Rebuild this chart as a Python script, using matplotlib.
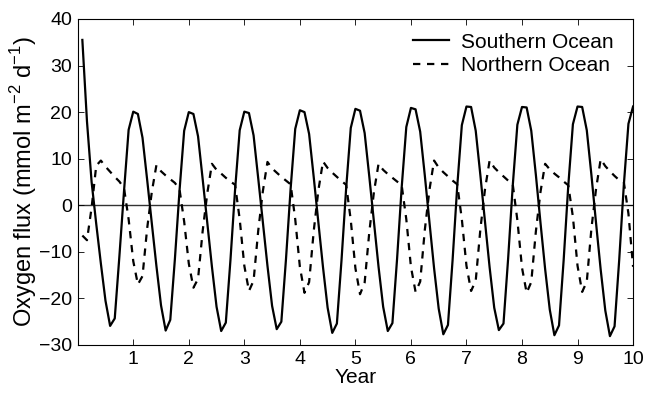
import numpy as np
import matplotlib
matplotlib.use('Agg')
import matplotlib.pyplot as plt

plt.rcParams['font.family'] = ['Liberation Sans', 'DejaVu Sans']
plt.rcParams['mathtext.fontset'] = 'custom'
plt.rcParams['mathtext.rm'] = 'Liberation Sans'

# monthly values, one row per model year (month 1..12)
southern = [
    35.5, 18.0, 5.0, -4.0, -12.5, -20.5, -25.9, -24.3, -11.0, 3.0, 16.2, 20.1,
    19.6, 14.5, 5.5, -3.8, -13.0, -21.5, -26.9, -24.6, -11.5, 3.2, 16.0, 20.0,
    19.6, 14.8, 5.6, -3.8, -13.2, -21.8, -27.0, -25.2, -11.8, 3.3, 16.1, 20.1,
    19.8, 15.0, 5.8, -3.6, -13.0, -21.6, -26.6, -25.0, -11.6, 3.5, 16.4, 20.4,
    20.0, 15.3, 6.0, -3.7, -13.3, -22.0, -27.4, -25.4, -11.8, 3.6, 16.6, 20.7,
    20.3, 15.5, 6.2, -3.5, -13.2, -21.8, -27.0, -25.3, -11.6, 3.8, 16.8, 20.9,
    20.6, 15.8, 6.4, -3.6, -13.5, -22.2, -27.7, -25.7, -11.8, 4.0, 17.2, 21.2,
    21.1, 16.0, 6.5, -3.5, -13.3, -22.0, -26.8, -25.4, -11.5, 4.2, 17.3, 21.1,
    21.0, 16.0, 6.5, -3.8, -13.7, -22.4, -27.9, -25.8, -11.8, 4.2, 17.4, 21.2,
    21.1, 16.1, 6.5, -3.8, -13.8, -22.6, -28.1, -26.0, -11.8, 4.3, 17.5, 21.2,
]
northern = [
    -6.5, -7.5, -0.5, 8.5, 9.6, 8.3, 7.2, 6.1, 5.1, 3.7, -3.0, -12.0,
    -17.0, -15.2, -5.0, 2.8, 8.6, 7.3, 6.4, 5.6, 4.8, 3.4, -3.5, -12.5,
    -17.7, -15.8, -5.5, 2.6, 8.9, 7.6, 6.8, 5.9, 5.1, 4.4, -3.0, -13.0,
    -18.4, -16.2, -5.5, 3.0, 9.3, 7.9, 7.0, 6.1, 5.3, 4.5, -3.0, -13.2,
    -18.8, -16.5, -5.5, 3.2, 9.4, 8.0, 7.0, 6.1, 5.2, 4.4, -3.2, -13.5,
    -19.1, -16.6, -5.8, 2.8, 8.9, 7.6, 6.7, 5.9, 5.1, 4.3, -3.0, -13.2,
    -18.6, -16.4, -5.3, 3.3, 9.6, 8.1, 7.1, 6.2, 5.3, 4.5, -3.0, -13.0,
    -18.4, -16.2, -5.2, 3.4, 9.6, 8.1, 7.1, 6.2, 5.3, 4.5, -3.2, -13.4,
    -18.8, -16.5, -5.6, 2.9, 8.9, 7.7, 6.8, 6.0, 5.1, 4.3, -2.5, -13.0,
    -18.6, -16.4, -5.0, 3.5, 9.9, 8.4, 7.3, 6.3, 5.4, 5.0, -1.8, -13.2,
]
labels = ['Southern Ocean', 'Northern Ocean']
x_ticks = [1, 2, 3, 4, 5, 6, 7, 8, 9, 10]
y_ticks = [-30, -20, -10, 0, 10, 20, 30, 40]

years = np.arange(1, len(southern) + 1) / 12.0

fig = plt.figure(figsize=(6.45, 3.95), dpi=100)
ax = fig.add_axes([0.1205, 0.1266, 0.8610, 0.8254])

ax.axhline(0, color='#333333', lw=1.0, zorder=1)
ax.plot(years, southern, color='black', lw=1.6, label=labels[0], zorder=3)
ax.plot(years, northern, color='black', lw=1.6, dashes=(3.3, 3.0), label=labels[1], zorder=2)

ax.set_xlim(0, 10)
ax.set_ylim(-30, 40)
ax.set_xticks(x_ticks)
ax.set_yticks(y_ticks)
ax.tick_params(direction='in', length=4, width=0.6, top=True, right=True,
               labelsize=14, pad=4)
for s in ax.spines.values():
    s.set_linewidth(0.8)

ax.set_xlabel('Year', fontsize=15, labelpad=0)
ax.set_ylabel('Oxygen flux (mmol m$^{-2}$ d$^{-1}$)', fontsize=17, labelpad=0)

ax.legend(loc='upper right', frameon=False, fontsize=15, handlelength=1.7,
          handletextpad=0.6, labelspacing=0.22, borderpad=0.2,
          borderaxespad=0.3, bbox_to_anchor=(0.984, 0.99))

fig.savefig('out.png', dpi=100)
